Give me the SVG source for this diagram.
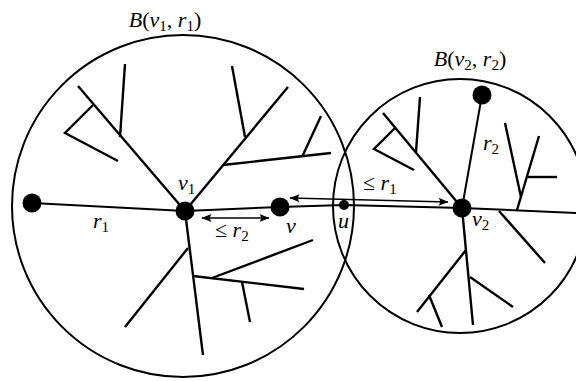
<svg xmlns="http://www.w3.org/2000/svg" width="576" height="381" viewBox="0 0 576 381">
<style>
  .ball { fill: none; stroke: #000; stroke-width: 2; }
  .tree { fill: none; stroke: #000; stroke-width: 2.4; stroke-linecap: butt; stroke-linejoin: miter; }
  .edge { fill: none; stroke: #000; stroke-width: 2; }
  .dist { fill: none; stroke: #000; stroke-width: 1.6; }
  .dot { fill: #000; }
  .lbl { font-family: "Liberation Serif", "Times New Roman", serif; font-size: 22px; fill: #000; }
  .it { font-style: italic; }
  .sub { font-size: 15px; font-style: normal; }
</style>
<defs>
  <marker id="ah" viewBox="0 0 10 8" refX="9.5" refY="4" markerWidth="10" markerHeight="8" markerUnits="userSpaceOnUse" orient="auto-start-reverse">
    <path d="M0,0 Q3,4 0,8 L10,4 Z" fill="#000"/>
  </marker>
</defs>
<rect width="576" height="381" fill="#fff"/>

<g id="ball-v1">
  <circle class="ball" cx="183" cy="206" r="171"/>
  <text class="lbl" x="165" y="27" text-anchor="middle"><tspan class="it">B</tspan>(<tspan class="it">v</tspan><tspan class="sub" dy="4">1</tspan><tspan dy="-4">, </tspan><tspan class="it">r</tspan><tspan class="sub" dy="4">1</tspan><tspan dy="-4">)</tspan></text>
</g>
<g id="ball-v2">
  <circle class="ball" cx="460" cy="206" r="127"/>
  <text class="lbl" x="470" y="66" text-anchor="middle"><tspan class="it">B</tspan>(<tspan class="it">v</tspan><tspan class="sub" dy="4">2</tspan><tspan dy="-4">, </tspan><tspan class="it">r</tspan><tspan class="sub" dy="4">2</tspan><tspan dy="-4">)</tspan></text>
</g>

<g id="connectors">
  <!-- tree in B(v1,r1) -->
  <path class="tree" d="M78,86 L185,211"/>
  <path class="tree" d="M120,137 L125,64"/>
  <path class="tree" d="M93,105 L65,133 L118,161"/>
  <path class="tree" d="M185,211 L288,87"/>
  <path class="tree" d="M245,137 L232,66"/>
  <path class="tree" d="M223,165 L331,153"/>
  <path class="tree" d="M302,157 L321,116"/>
  <path class="tree" d="M185,211 L203,355"/>
  <path class="tree" d="M188,248 L125,327"/>
  <path class="tree" d="M193,276 L304,289"/>
  <path class="tree" d="M212,278 L313,240"/>
  <path class="tree" d="M242,282 L250,322"/>
  <!-- tree in B(v2,r2) -->
  <path class="tree" d="M383,113 L462,208"/>
  <path class="tree" d="M416,152 L420,97"/>
  <path class="tree" d="M395,128 L374,149 L414,170"/>
  <path class="tree" d="M505,123 L521,197"/>
  <path class="tree" d="M539,136 L517,210"/>
  <path class="tree" d="M528,177 L557,177"/>
  <path class="tree" d="M499,211 L545,263"/>
  <path class="tree" d="M462,208 L473,325"/>
  <path class="tree" d="M466,250 L417,312"/>
  <path class="tree" d="M429,295 L442,327"/>
  <path class="tree" d="M470,277 L513,307"/>
  <!-- path edges -->
  <path class="edge" d="M32,203 L185,211"/>
  <path class="edge" d="M185,211 L280,207"/>
  <path class="edge" d="M280,207 L344,205 L462,208 L576,213"/>
  <path class="edge" d="M462,208 L482,95"/>
  <!-- distance arrows -->
  <path class="dist" d="M202,218 L269,218" marker-start="url(#ah)" marker-end="url(#ah)"/>
  <path class="dist" d="M290,198 L448,202" marker-start="url(#ah)" marker-end="url(#ah)"/>
</g>

<g id="node-left"><circle class="dot" cx="32" cy="203" r="9.5"/></g>
<g id="node-v1"><circle class="dot" cx="185" cy="211" r="9.5"/>
  <text class="lbl" x="178" y="190"><tspan class="it">v</tspan><tspan class="sub" dy="4">1</tspan></text></g>
<g id="node-v"><circle class="dot" cx="280" cy="207" r="9.5"/>
  <text class="lbl it" x="286" y="233">v</text></g>
<g id="node-u"><circle class="dot" cx="344" cy="205" r="5"/>
  <text class="lbl it" x="338" y="228">u</text></g>
<g id="node-v2"><circle class="dot" cx="462" cy="208" r="9.5"/>
  <text class="lbl" x="472" y="226"><tspan class="it">v</tspan><tspan class="sub" dy="4">2</tspan></text></g>
<g id="node-top"><circle class="dot" cx="482" cy="95" r="9.5"/></g>

<g id="labels">
  <text class="lbl" x="93" y="228"><tspan class="it">r</tspan><tspan class="sub" dy="4">1</tspan></text>
  <text class="lbl" x="483" y="150"><tspan class="it">r</tspan><tspan class="sub" dy="4">2</tspan></text>
  <text class="lbl" x="215" y="237">≤ <tspan class="it">r</tspan><tspan class="sub" dy="4">2</tspan></text>
  <text class="lbl" x="363" y="190">≤ <tspan class="it">r</tspan><tspan class="sub" dy="4">1</tspan></text>
</g>
</svg>
